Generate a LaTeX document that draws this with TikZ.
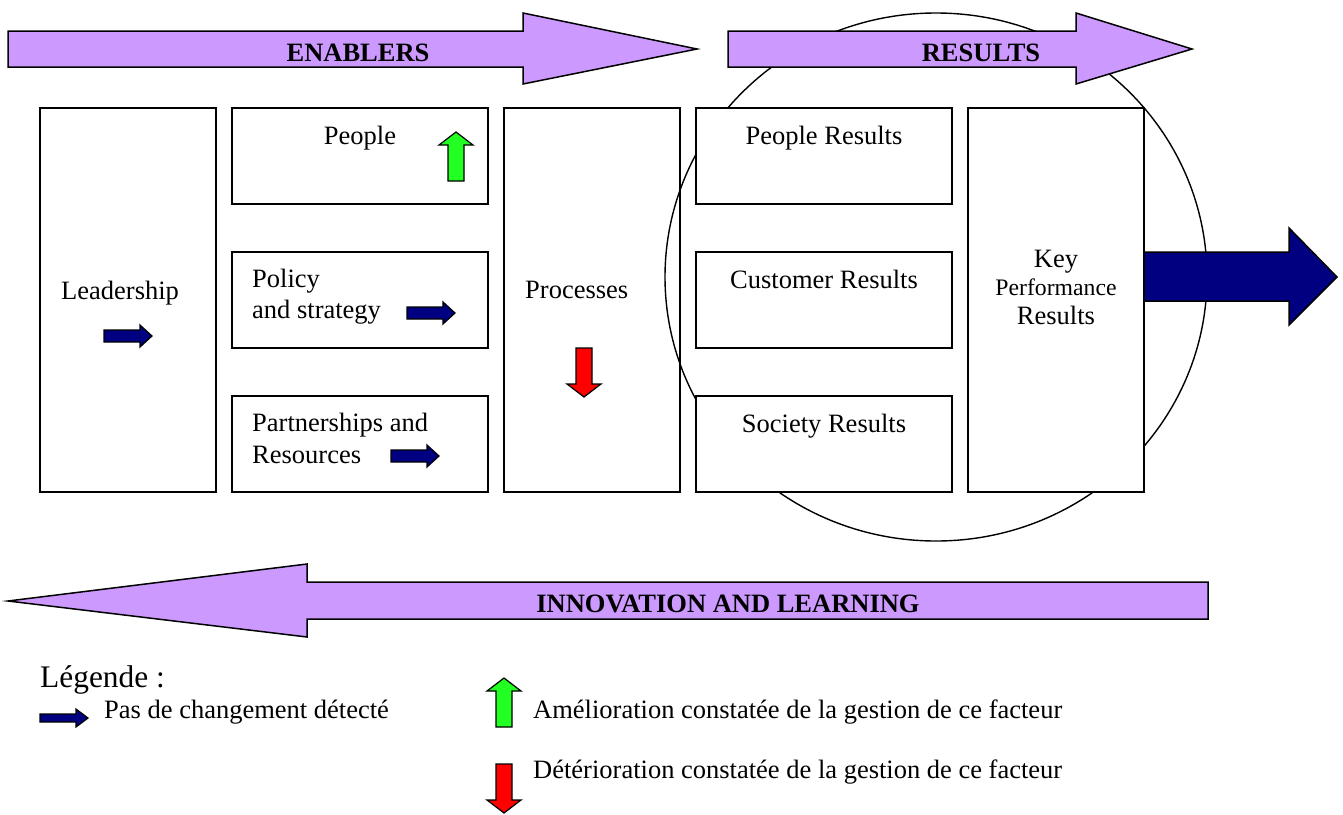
\documentclass[tikz,border=0pt]{standalone}
\usepackage{fontspec}
\setmainfont{Liberation Serif}
\usepackage{tikz}
\definecolor{lavender}{HTML}{CC99FF}
\definecolor{navyblue}{HTML}{000080}
\definecolor{upgreen}{HTML}{22FF22}
\definecolor{downred}{HTML}{FF0000}

\begin{document}
\begin{tikzpicture}[x=1pt, y=-1pt,
  box/.style={draw, line width=1.6, minimum width=176, minimum height=384, inner sep=0},
  wbox/.style={draw, line width=1.6, minimum width=256, minimum height=96, inner sep=0},
  txt/.style={inner sep=0, font=\fontsize{26.5}{30}\selectfont},
  head/.style={inner sep=0, font=\fontsize{26.5}{30}\selectfont\bfseries},
  band/.style={draw, line width=1.5, fill=lavender},
  flat/.style={draw, line width=1.2, fill=navyblue},
  up/.style={draw, line width=1.2, fill=upgreen},
  down/.style={draw, line width=1.2, fill=downred}]
  \useasboundingbox (0,0) rectangle (1343,814);
  % enablers
  \node[box] (lead) at (128,300) {};
  \node[wbox] (peop) at (360,156) {};
  \node[wbox] (pol) at (360,300) {};
  \node[wbox] (part) at (360,444) {};
  \node[box] (proc) at (592,300) {};
  % results
  \draw[line width=1.4] (936,277) ellipse [x radius=271pt, y radius=264pt];
  \node[wbox, fill=white] (pres) at (824,156) {};
  \node[wbox, fill=white] (cres) at (824,300) {};
  \node[wbox, fill=white] (sres) at (824,444) {};
  \node[box, fill=white] (kres) at (1056,300) {};
  \draw[flat, line width=1.5] (1144,252) -- (1289,252) -- (1289,228) -- (1337,277) -- (1289,325) -- (1289,301) -- (1144,301) -- cycle;
  % bands
  \draw[band] (8,31) -- (523,31) -- (523,13) -- (697,49) -- (523,84) -- (523,67) -- (8,67) -- cycle;
  \draw[band] (728,31) -- (1076,31) -- (1076,13) -- (1192,49) -- (1076,84) -- (1076,67) -- (728,67) -- cycle;
  \draw[band] (1208,582) -- (307,582) -- (307,564) -- (8,601) -- (307,637) -- (307,619) -- (1208,619) -- cycle;
  \node[head, anchor=base] (enab) at (358,61) {ENABLERS};
  \node[head, anchor=base] (resu) at (981,61) {RESULTS};
  \node[head, anchor=base] (inno) at (728,612) {INNOVATION AND LEARNING};
  % labels
  \node[txt, anchor=base west] (leadtxt) at (61,299) {Leadership};
  \node[txt, anchor=base] (peoptxt) at (360,144) {People};
  \node[txt, anchor=base west] (poltxt) at (252,287) {Policy};
  \node[txt, anchor=base west] (poltxtb) at (252,318) {and strategy};
  \node[txt, anchor=base west] (parttxt) at (252,431) {Partnerships and};
  \node[txt, anchor=base west] (parttxtb) at (252,463) {Resources};
  \node[txt, anchor=base west] (proctxt) at (525,298) {Processes};
  \node[txt, anchor=base] (prestxt) at (824,144) {People Results};
  \node[txt, anchor=base] (crestxt) at (824,288) {Customer Results};
  \node[txt, anchor=base] (srestxt) at (824,432) {Society Results};
  \node[txt, anchor=base] (krestxt) at (1056,267) {Key};
  \node[txt, anchor=base, font=\fontsize{23.7}{28}\selectfont] (krestxtb) at (1056,295) {Performance};
  \node[txt, anchor=base] (krestxtc) at (1056,324) {Results};
  % legend
  \node[txt, anchor=base west, font=\fontsize{31.4}{36}\selectfont] (leg) at (40,687) {Légende :};
  \node[txt, anchor=base west] (legflat) at (104,718) {Pas de changement détecté};
  \node[txt, anchor=base west] (legup) at (533,718) {Amélioration constatée de la gestion de ce facteur};
  \node[txt, anchor=base west] (legdown) at (533,778) {Détérioration constatée de la gestion de ce facteur};
  % trend arrows
  \foreach \x/\y in {104/336, 407/313, 391/456}
    \draw[flat] (\x,\y-6) -- ++(36,0) -- ++(0,-5) -- ++(12,11) -- ++(-12,11) -- ++(0,-5) -- ++(-36,0) -- cycle;
  \draw[flat] (40,714) -- ++(36,0) -- ++(0,-5) -- ++(12,9) -- ++(-12,9) -- ++(0,-5) -- ++(-36,0) -- cycle;
  \foreach \x/\y in {456/132, 504/678}
    \draw[up] (\x-8,\y+49) -- ++(0,-36) -- ++(-9,0) -- ++(17,-13) -- ++(17,13) -- ++(-9,0) -- ++(0,36) -- cycle;
  \foreach \x/\y in {584/348, 504/764}
    \draw[down] (\x-8,\y) -- ++(0,36) -- ++(-9,0) -- ++(17,13) -- ++(17,-13) -- ++(-9,0) -- ++(0,-36) -- cycle;
\end{tikzpicture}
\end{document}
